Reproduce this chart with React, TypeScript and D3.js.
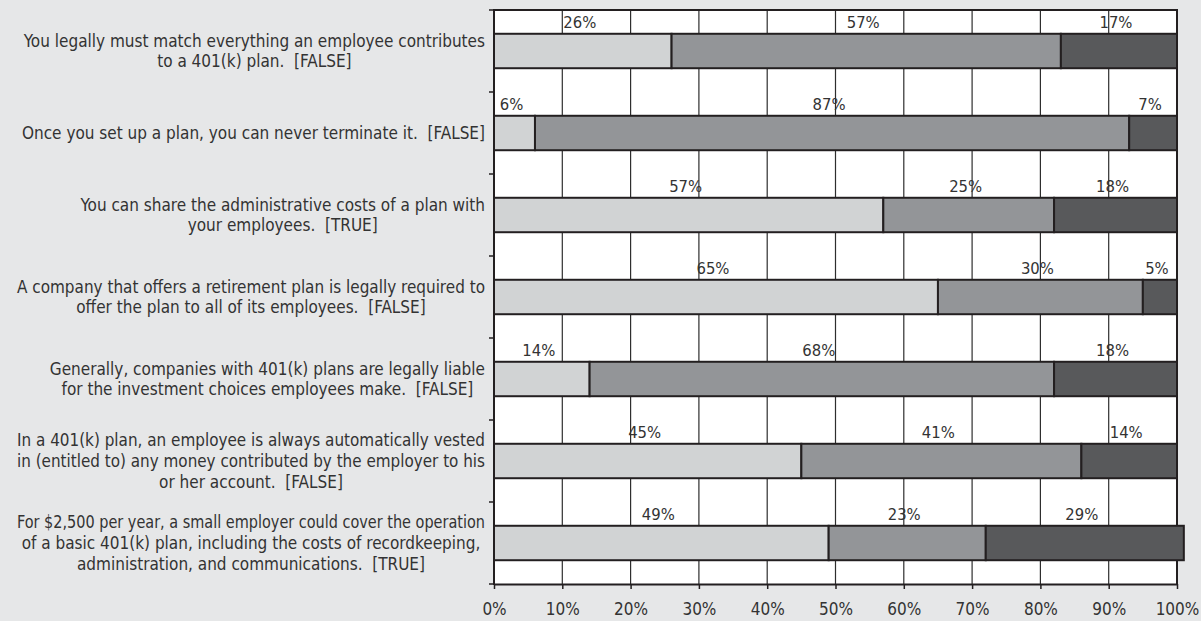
import React, { useRef, useEffect } from "react";
import * as d3 from "d3";

// statement text, one entry per line
const statements: string[][] = [
  ["You legally must match everything an employee contributes", "to a 401(k) plan.  [FALSE]"],
  ["Once you set up a plan, you can never terminate it.  [FALSE]"],
  ["You can share the administrative costs of a plan with", "your employees.  [TRUE]"],
  ["A company that offers a retirement plan is legally required to", "offer the plan to all of its employees.  [FALSE]"],
  ["Generally, companies with 401(k) plans are legally liable", "for the investment choices employees make.  [FALSE]"],
  [
    "In a 401(k) plan, an employee is always automatically vested",
    "in (entitled to) any money contributed by the employer to his",
    "or her account.  [FALSE]",
  ],
  [
    "For $2,500 per year, a small employer could cover the operation",
    "of a basic 401(k) plan, including the costs of recordkeeping,",
    "administration, and communications.  [TRUE]",
  ],
];

// three answer groups, percent of respondents
const seriesA = [26, 6, 57, 65, 14, 45, 49];
const seriesB = [57, 87, 25, 30, 68, 41, 23];
const seriesC = [17, 7, 18, 5, 18, 14, 29];

const xTicks = [0, 10, 20, 30, 40, 50, 60, 70, 80, 90, 100];

const W = 1201;
const H = 621;
const FONT = "'Liberation Sans Narrow', 'DejaVu Sans Condensed', sans-serif";
const INK = "#231f20";
const fills = ["#d1d3d4", "#939598", "#58595b"];

function App() {
  const ref = useRef<SVGSVGElement>(null);

  useEffect(() => {
    const svg = d3.select(ref.current).html("");

    const x = d3.scaleLinear().domain([0, 100]).range([494, 1177]);
    const y = d3
      .scaleBand<number>()
      .domain(d3.range(statements.length))
      .range([10, 584]);
    const bw = y.bandwidth();

    const rows = statements.map((_, i) => ({ a: seriesA[i], b: seriesB[i], c: seriesC[i], i }));
    const stacked = d3.stack<any>().keys(["a", "b", "c"])(rows);

    // background
    svg.append("rect").attr("width", W).attr("height", H).attr("fill", "#e6e7e8");
    svg
      .append("rect")
      .attr("x", x(0))
      .attr("y", 10)
      .attr("width", x(100) - x(0))
      .attr("height", 574)
      .attr("fill", "#ffffff");

    // vertical gridlines
    svg
      .append("g")
      .selectAll("line")
      .data(xTicks)
      .join("line")
      .attr("x1", (d) => x(d))
      .attr("x2", (d) => x(d))
      .attr("y1", 10)
      .attr("y2", 584)
      .attr("stroke", "#2e2e2e")
      .attr("stroke-width", 1.2);

    // frame top + right
    svg
      .append("path")
      .attr("d", `M${x(0)},10H${x(100)}V584`)
      .attr("fill", "none")
      .attr("stroke", INK)
      .attr("stroke-width", 2);

    // stacked bars
    const barY = (i: number) => (y(i) as number) + bw * 0.29;
    const barH = bw * 0.42;
    stacked.forEach((layer, k) => {
      svg
        .append("g")
        .selectAll("rect")
        .data(layer)
        .join("rect")
        .attr("x", (d) => x(d[0]))
        .attr("y", (d) => barY(d.data.i))
        .attr("width", (d) => x(d[1]) - x(d[0]))
        .attr("height", barH)
        .attr("fill", fills[k])
        .attr("stroke", INK)
        .attr("stroke-width", 2);
    });

    // value labels
    stacked.forEach((layer) => {
      svg
        .append("g")
        .selectAll("text")
        .data(layer)
        .join("text")
        .attr("x", (d) => x((d[0] + d[1]) / 2) - 3)
        .attr("y", (d) => barY(d.data.i) - 6)
        .attr("text-anchor", "middle")
        .attr("font-family", FONT)
        .attr("font-size", 16.5)
        .attr("fill", "#333")
        .text((d) => `${d[1] - d[0]}%`);
    });

    // x axis
    const xAxis = svg
      .append("g")
      .attr("transform", "translate(0,584)")
      .call(
        d3
          .axisBottom(x)
          .tickValues(xTicks)
          .tickFormat((d) => `${d}%`)
          .tickSize(5)
          .tickSizeOuter(0)
      );
    xAxis.select(".domain").attr("stroke", INK).attr("stroke-width", 2);
    xAxis.selectAll(".tick line").attr("stroke", INK).attr("stroke-width", 1.5);
    xAxis
      .selectAll(".tick text")
      .attr("font-family", FONT)
      .attr("font-size", 17)
      .attr("fill", "#333")
      .attr("y", 19);

    // y axis with ticks at row boundaries
    const yAxis = svg.append("g");
    yAxis
      .append("line")
      .attr("x1", x(0))
      .attr("x2", x(0))
      .attr("y1", 9)
      .attr("y2", 585)
      .attr("stroke", INK)
      .attr("stroke-width", 2);
    yAxis
      .selectAll("line.t")
      .data(d3.range(statements.length + 1))
      .join("line")
      .attr("class", "t")
      .attr("x1", x(0) - 5)
      .attr("x2", x(0))
      .attr("y1", (d) => 10 + d * bw)
      .attr("y2", (d) => 10 + d * bw)
      .attr("stroke", INK)
      .attr("stroke-width", 1.5);

    // statement labels: block right-aligned, lines centered within block
    const lineH = 20.7;
    const maxLine = 468;
    statements.forEach((lines, i) => {
      const g = svg.append("g");
      const cy = barY(i) + barH / 2;
      const texts = g
        .selectAll("text")
        .data(lines)
        .join("text")
        .attr("y", (_, j) => cy + (j - (lines.length - 1) / 2) * lineH)
        .attr("dy", "0.35em")
        .attr("text-anchor", "middle")
        .attr("font-family", FONT)
        .attr("font-size", 17)
        .attr("fill", "#333")
        .style("white-space", "pre")
        .text((d) => d);
      let maxW = 0;
      texts.each(function () {
        const t = this as SVGTextElement;
        const w = t.getComputedTextLength();
        if (w > maxLine) {
          t.setAttribute("textLength", String(maxLine));
          t.setAttribute("lengthAdjust", "spacingAndGlyphs");
        }
        maxW = Math.max(maxW, Math.min(w, maxLine));
      });
      texts.attr("x", 485 - maxW / 2);
    });
  }, []);

  return (
    <svg
      ref={ref}
      width={W}
      height={H}
      style={{ position: "absolute", left: 0, top: 0, display: "block" }}
    />
  );
}

export default App;
